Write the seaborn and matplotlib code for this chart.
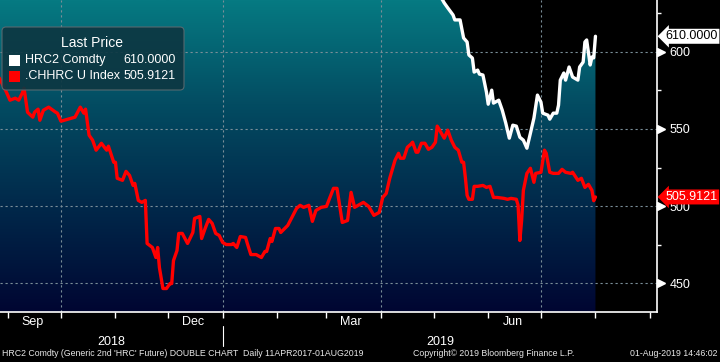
import matplotlib
matplotlib.use("Agg")
import matplotlib.dates as mdates
import matplotlib.pyplot as plt
import matplotlib.transforms as mtransforms
import numpy as np
import pandas as pd
import seaborn as sns
from matplotlib.colors import LinearSegmentedColormap
from matplotlib.patches import FancyBboxPatch, Rectangle
from matplotlib.ticker import FuncFormatter, NullFormatter

# HRC2 Comdty (generic 2nd HRC future); values above ~634 are off the top of the chart
HRC2_DATES = [
    "2018-08-27", "2018-09-15", "2018-10-01", "2018-10-15", "2018-11-01", "2018-11-15",
    "2018-12-01", "2018-12-15", "2019-01-02", "2019-01-15", "2019-02-01", "2019-02-15",
    "2019-03-01", "2019-03-15", "2019-04-01", "2019-04-15", "2019-04-25", "2019-05-02",
    "2019-05-06", "2019-05-07", "2019-05-09", "2019-05-12", "2019-05-13", "2019-05-16",
    "2019-05-18", "2019-05-20", "2019-05-21", "2019-05-23", "2019-05-24", "2019-05-26",
    "2019-05-27", "2019-05-29", "2019-05-31", "2019-06-01", "2019-06-03", "2019-06-04",
    "2019-06-07", "2019-06-09", "2019-06-11", "2019-06-13", "2019-06-15", "2019-06-17",
    "2019-06-19", "2019-06-21", "2019-06-23", "2019-06-25", "2019-06-27", "2019-06-29",
    "2019-07-01", "2019-07-02", "2019-07-05", "2019-07-06", "2019-07-08", "2019-07-10",
    "2019-07-11", "2019-07-12", "2019-07-14", "2019-07-15", "2019-07-17", "2019-07-19",
    "2019-07-22", "2019-07-23", "2019-07-25", "2019-07-26", "2019-07-27", "2019-07-29",
    "2019-07-30", "2019-07-31", "2019-08-01",
]
HRC2_VALUES = [
    840, 830, 810, 800, 770, 750,
    720, 710, 700, 690, 680, 685,
    680, 675, 670, 660, 650, 640,
    633.6, 631.6, 628.4, 623.8, 620.6, 620.6,
    608.9, 606.3, 597.9, 595.9, 586.8, 588.1,
    585.5, 584.9, 573.8, 566.0, 575.1, 566.7,
    568.6, 562.1, 553.7, 544.0, 552.4, 551.8,
    544.6, 542.7, 537.5, 547.2, 557.0, 571.9,
    567.3, 560.2, 558.9, 556.3, 560.2, 560.2,
    565.4, 581.6, 586.2, 581.6, 590.1, 583.6,
    581.6, 590.1, 593.3, 606.3, 607.6, 591.4,
    596.6, 596.0, 610.0,
]

# .CHHRC U Index
CHHRC_DATES = [
    "2018-08-27", "2018-08-31", "2018-09-02", "2018-09-05", "2018-09-07", "2018-09-09",
    "2018-09-10", "2018-09-11", "2018-09-12", "2018-09-15", "2018-09-16", "2018-09-18",
    "2018-09-19", "2018-09-21", "2018-09-24", "2018-09-28", "2018-09-29", "2018-10-01",
    "2018-10-09", "2018-10-12", "2018-10-14", "2018-10-15", "2018-10-17", "2018-10-19",
    "2018-10-21", "2018-10-24", "2018-10-27", "2018-10-28", "2018-10-31", "2018-11-01",
    "2018-11-02", "2018-11-05", "2018-11-07", "2018-11-09", "2018-11-11", "2018-11-12",
    "2018-11-14", "2018-11-16", "2018-11-18", "2018-11-19", "2018-11-22", "2018-11-24",
    "2018-11-25", "2018-11-26", "2018-11-28", "2018-11-30", "2018-12-02", "2018-12-03",
    "2018-12-04", "2018-12-06", "2018-12-07", "2018-12-09", "2018-12-12", "2018-12-15",
    "2018-12-16", "2018-12-19", "2018-12-20", "2018-12-22", "2018-12-24", "2018-12-26",
    "2018-12-28", "2018-12-30", "2019-01-01", "2019-01-03", "2019-01-06", "2019-01-07",
    "2019-01-09", "2019-01-11", "2019-01-14", "2019-01-15", "2019-01-17", "2019-01-20",
    "2019-01-23", "2019-01-25", "2019-01-26", "2019-01-28", "2019-01-29", "2019-01-31",
    "2019-02-02", "2019-02-03", "2019-02-07", "2019-02-12", "2019-02-14", "2019-02-16",
    "2019-02-19", "2019-02-21", "2019-02-23", "2019-02-26", "2019-03-01", "2019-03-05",
    "2019-03-07", "2019-03-10", "2019-03-13", "2019-03-15", "2019-03-17", "2019-03-19",
    "2019-03-22", "2019-03-25", "2019-03-28", "2019-03-31", "2019-04-02", "2019-04-04",
    "2019-04-06", "2019-04-09", "2019-04-11", "2019-04-12", "2019-04-14", "2019-04-16",
    "2019-04-18", "2019-04-19", "2019-04-21", "2019-04-22", "2019-04-24", "2019-04-26",
    "2019-04-28", "2019-04-30", "2019-05-02", "2019-05-03", "2019-05-05", "2019-05-07",
    "2019-05-09", "2019-05-11", "2019-05-13", "2019-05-15", "2019-05-17", "2019-05-18",
    "2019-05-19", "2019-05-20", "2019-05-21", "2019-05-23", "2019-05-24", "2019-05-26",
    "2019-05-29", "2019-05-31", "2019-06-02", "2019-06-04", "2019-06-06", "2019-06-10",
    "2019-06-12", "2019-06-14", "2019-06-17", "2019-06-18", "2019-06-19", "2019-06-20",
    "2019-06-21", "2019-06-23", "2019-06-25", "2019-06-27", "2019-06-28", "2019-07-01",
    "2019-07-03", "2019-07-04", "2019-07-06", "2019-07-08", "2019-07-11", "2019-07-13",
    "2019-07-15", "2019-07-18", "2019-07-19", "2019-07-22", "2019-07-24", "2019-07-26",
    "2019-07-28", "2019-07-29", "2019-07-30", "2019-07-31", "2019-08-01",
]
CHHRC_VALUES = [
    582.9, 573.8, 568.6, 569.9, 568.6, 573.2,
    576.4, 568.6, 560.8, 557.6, 560.8, 562.8,
    555.6, 562.1, 564.1, 560.8, 560.2, 555.0,
    557.6, 564.1, 560.2, 562.8, 545.9, 542.7,
    536.2, 540.7, 536.2, 538.8, 528.4, 528.4,
    518.0, 516.7, 522.5, 519.9, 513.4, 514.7,
    503.7, 502.4, 503.7, 475.8, 473.2, 466.7,
    473.2, 460.2, 446.6, 446.6, 449.8, 449.8,
    464.7, 471.2, 482.3, 482.3, 475.8, 482.9,
    492.0, 493.3, 479.0, 485.5, 491.4, 488.8,
    482.3, 481.0, 476.4, 475.1, 475.1, 475.8,
    473.2, 480.3, 479.7, 475.8, 468.6, 468.6,
    466.7, 470.6, 470.6, 479.0, 477.1, 485.5,
    485.5, 482.9, 487.5, 498.5, 500.5, 499.2,
    500.5, 490.1, 497.2, 499.2, 499.8, 511.5,
    511.5, 489.4, 490.7, 508.9, 499.2, 500.5,
    502.4, 499.8, 494.0, 495.9, 505.6, 508.2,
    518.0, 529.7, 534.2, 531.0, 531.0, 538.1,
    540.1, 541.4, 534.9, 534.9, 540.7, 540.7,
    536.8, 538.1, 541.4, 551.8, 547.9, 544.0,
    549.2, 542.7, 538.1, 536.2, 528.4, 528.4,
    518.6, 507.0, 504.4, 504.4, 512.8, 512.8,
    513.4, 512.1, 512.8, 505.6, 505.6, 505.0,
    504.4, 505.0, 504.4, 500.5, 477.7, 490.7,
    510.2, 521.2, 524.5, 515.4, 521.2, 521.9,
    536.2, 534.2, 521.9, 521.2, 521.2, 523.8,
    521.9, 521.2, 521.9, 516.7, 518.0, 512.1,
    514.1, 512.1, 510.2, 503.5, 505.9121,
]

Y_TICKS = [450, 500, 550, 600]
Y_MINOR_TICKS = [475, 525, 575, 625]
Y_RANGE = (431.4, 633.5)
X_RANGE = ("2018-08-27 08:00", "2019-09-05")
QUARTER_STARTS = ["2018-10-01", "2019-01-01", "2019-04-01", "2019-07-01"]
MONTH_LABELS = {9: "Sep", 12: "Dec", 3: "Mar", 6: "Jun"}
YEAR_BREAK = "2019-01-01"
YEAR_LABELS = ["2018", "2019"]
LEGEND_TITLE = "Last Price"
SERIES_NAMES = ["HRC2 Comdty", ".CHHRC U Index"]
LAST_VALUES = ["610.0000", "505.9121"]
FOOTER_LEFT = "HRC2 Comdty (Generic 2nd 'HRC' Future) DOUBLE CHART  Daily 11APR2017-01AUG2019"
FOOTER_MID = "Copyright\u00a9 2019 Bloomberg Finance L.P."
FOOTER_RIGHT = "01-Aug-2019 14:46:02"

W, H = 720, 362
RED = "#ff0000"
GRID = "#7a8e98"


def fpos(x, y):
    # pixel position (from top-left) -> figure fraction
    return x / W, 1 - y / H


def main() -> None:
    sns.set_style("dark")
    plt.rcParams["font.family"] = ["Liberation Sans", "DejaVu Sans"]

    hrc = pd.DataFrame({"date": pd.to_datetime(HRC2_DATES), "price": HRC2_VALUES})
    chh = pd.DataFrame({"date": pd.to_datetime(CHHRC_DATES), "price": CHHRC_VALUES})

    fig = plt.figure(figsize=(W / 100, H / 100), dpi=100, facecolor="black")
    ax = fig.add_axes([0, 1 - 312 / H, 657 / W, 312 / H])
    ax.set_facecolor("black")
    xlim = (pd.Timestamp(X_RANGE[0]), pd.Timestamp(X_RANGE[1]))

    # gradient area under the HRC2 line
    poly = ax.fill_between(hrc["date"], hrc["price"], 400, color="none", lw=0)
    cmap = LinearSegmentedColormap.from_list(
        "bbg", ["#000632", "#01284a", "#034c62", "#067a82"])
    x0, x1 = mdates.date2num(xlim[0]), mdates.date2num(xlim[1])
    grad = np.linspace(0, 1, 256).reshape(-1, 1)
    img = ax.imshow(grad, cmap=cmap, aspect="auto", origin="lower",
                    extent=[x0, x1, Y_RANGE[0], Y_RANGE[1]], zorder=1)
    img.set_clip_path(poly.get_paths()[0], transform=ax.transData)

    for v in Y_TICKS:
        ax.axhline(v, color=GRID, lw=0.8, ls=(0, (2, 2.5)), zorder=2)
    for d in QUARTER_STARTS:
        ax.axvline(pd.Timestamp(d), color=GRID, lw=0.8, ls=(0, (2, 2.5)), zorder=2)

    sns.lineplot(data=hrc, x="date", y="price", color="white", lw=2.4,
                 estimator=None, ax=ax, zorder=4)
    sns.lineplot(data=chh, x="date", y="price", color=RED, lw=2.4,
                 estimator=None, ax=ax, zorder=5)

    ax.set_xlim(*xlim)
    ax.set_ylim(*Y_RANGE)
    ax.set_xlabel("")
    ax.set_ylabel("")
    ax.grid(False)

    for side in ["left", "top"]:
        ax.spines[side].set_visible(False)
    for side in ["right", "bottom"]:
        ax.spines[side].set_color("white")
        ax.spines[side].set_linewidth(1.2)

    # right value axis
    ax.yaxis.tick_right()
    ax.set_yticks(Y_TICKS)
    ax.set_yticks(Y_MINOR_TICKS, minor=True)
    ax.tick_params(axis="y", which="major", right=True, left=False, length=0,
                   pad=9, labelcolor="white", labelsize=9)
    ax.tick_params(axis="y", which="minor", right=True, left=False, length=3,
                   width=1, color="white", direction="out")
    ytrans = mtransforms.blended_transform_factory(ax.transAxes, ax.transData)
    ax.plot([1.006] * len(Y_TICKS), Y_TICKS, ls="none", marker=">", ms=5.5,
            color="white", transform=ytrans, clip_on=False, zorder=6)

    # date axis
    ax.xaxis.set_major_locator(mdates.MonthLocator())
    ax.xaxis.set_major_formatter(NullFormatter())
    ax.xaxis.set_minor_locator(mdates.MonthLocator(bymonthday=15))
    ax.xaxis.set_minor_formatter(FuncFormatter(
        lambda x, pos: MONTH_LABELS.get(mdates.num2date(x).month, "")))
    ax.tick_params(axis="x", which="major", bottom=True, length=4, width=1,
                   color="white", direction="out")
    ax.tick_params(axis="x", which="minor", bottom=True, length=0, pad=3,
                   labelcolor="white", labelsize=9)

    xtrans = mtransforms.blended_transform_factory(ax.transData, ax.transAxes)
    brk = pd.Timestamp(YEAR_BREAK)
    ax.plot([brk, brk], [-0.045, -0.11], color="white", lw=0.8,
            transform=xtrans, clip_on=False)
    mids = [xlim[0] + (brk - xlim[0]) / 2, brk + (xlim[1] - brk) / 2]
    for mid, label in zip(mids, YEAR_LABELS):
        ax.text(mid, -0.095, label, transform=xtrans, color="white", fontsize=9,
                ha="center", va="center")

    # last value tags
    for val, txt, fc, tc in zip([float(v) for v in LAST_VALUES], LAST_VALUES,
                                ["white", RED], ["black", "white"]):
        ax.text(1.013, val, txt, transform=ytrans, color=tc, fontsize=9,
                ha="left", va="center", zorder=8,
                bbox=dict(boxstyle="larrow,pad=0.12", fc=fc, ec=fc, lw=0))

    # legend box
    ident = mtransforms.IdentityTransform()
    fig.add_artist(FancyBboxPatch((2, H - 90), 182, 63,
                                  boxstyle="round,pad=0,rounding_size=4",
                                  fc="#0d3742", ec="#5c6a70", lw=0.8,
                                  alpha=0.92, transform=ident, zorder=10))
    fig.text(*fpos(92, 43), LEGEND_TITLE, color="white", fontsize=10,
             ha="center", va="center", zorder=11)
    for i, (name, last, col) in enumerate(zip(SERIES_NAMES, LAST_VALUES,
                                              ["white", RED])):
        yc = 60 + i * 16
        fig.add_artist(Rectangle((9, H - yc - 5.5), 11, 11, fc=col, ec="none",
                                 transform=ident, zorder=11))
        fig.text(*fpos(25, yc), name, color="white", fontsize=9,
                 ha="left", va="center", zorder=11)
        fig.text(*fpos(176, yc), last, color="white", fontsize=9,
                 ha="right", va="center", zorder=11)

    # footer
    fig.text(*fpos(2, 354), FOOTER_LEFT, color="#e8e8e8", fontsize=6.3,
             ha="left", va="center")
    fig.text(*fpos(413, 354), FOOTER_MID, color="#e8e8e8", fontsize=6.3,
             ha="left", va="center")
    fig.text(*fpos(718, 354), FOOTER_RIGHT, color="#e8e8e8", fontsize=6.3,
             ha="right", va="center")

    fig.savefig("out.png", dpi=100, facecolor="black")
    plt.close(fig)


if __name__ == "__main__":
    main()
